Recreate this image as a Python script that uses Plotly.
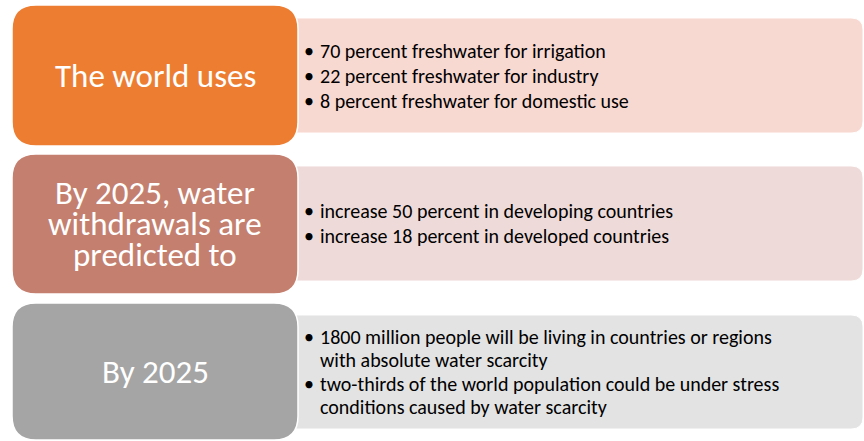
import plotly.graph_objects as go

# ---- data ----
headings = [
    ["The world uses"],
    ["By 2025, water", "withdrawals are", "predicted to"],
    ["By 2025"],
]
bullets = [
    [["70 percent freshwater for irrigation"],
     ["22 percent freshwater for industry"],
     ["8 percent freshwater for domestic use"]],
    [["increase 50 percent in developing countries"],
     ["increase 18 percent in developed countries"]],
    [["1800 million people will be living in countries or regions",
      "with absolute water scarcity"],
     ["two-thirds of the world population could be under stress",
      "conditions caused by water scarcity"]],
]
head_colors = ["#ED7D31", "#C47F6E", "#A5A5A5"]
body_colors = ["#F8D9D2", "#EEDBD9", "#E3E3E3"]

# ---- layout geometry (pixels) ----
W, H = 864, 441
head_boxes = [(12, 5, 298, 146), (12, 154, 298, 294), (12, 303, 298, 440)]
body_boxes = [(285, 18, 863, 133), (285, 166, 863, 281), (285, 315, 863, 429)]
FONT = "Carlito, Lato, 'Open Sans', sans-serif"


def rrect(x0, y0, x1, y1, r):
    return (f"M {x0+r},{y0} L {x1-r},{y0} Q {x1},{y0} {x1},{y0+r} "
            f"L {x1},{y1-r} Q {x1},{y1} {x1-r},{y1} L {x0+r},{y1} "
            f"Q {x0},{y1} {x0},{y1-r} L {x0},{y0+r} Q {x0},{y0} {x0+r},{y0} Z")


fig = go.Figure()
fig.add_trace(go.Scatter(x=[0, W], y=[0, H], mode="markers",
                         marker=dict(opacity=0), hoverinfo="skip", showlegend=False))

shapes = []
annotations = []
for i in range(3):
    bx = body_boxes[i]
    shapes.append(dict(type="path", path=rrect(*bx, 12), xref="x", yref="y",
                       fillcolor=body_colors[i], line=dict(color="rgba(255,255,255,0.9)", width=1),
                       layer="below"))
    hx = head_boxes[i]
    shapes.append(dict(type="path", path=rrect(*hx, 24), xref="x", yref="y",
                       fillcolor=head_colors[i], line=dict(color="white", width=1.5),
                       layer="below"))
    # heading text
    cx = (hx[0] + hx[2]) / 2
    cy = (hx[1] + hx[3]) / 2
    n = len(headings[i])
    lh = 31
    for k, line in enumerate(headings[i]):
        y = cy + (k - (n - 1) / 2) * lh
        annotations.append(dict(x=cx, y=y, text=line, showarrow=False, xref="x", yref="y",
                                xanchor="center", yanchor="middle",
                                font=dict(family=FONT, size=33, color="white")))
    # bullets
    lines = []
    for b in bullets[i]:
        for j, t in enumerate(b):
            lines.append((j == 0, t))
    n = len(lines)
    lh = 25 if i < 2 else 23.5
    by = (bx[1] + bx[3]) / 2
    for k, (first, t) in enumerate(lines):
        y = by + (k - (n - 1) / 2) * lh
        if first:
            annotations.append(dict(x=309, y=y, text="•", showarrow=False, xref="x", yref="y",
                                    xanchor="center", yanchor="middle",
                                    font=dict(family=FONT, size=20, color="black")))
        annotations.append(dict(x=318, y=y, text=t, showarrow=False, xref="x", yref="y",
                                xanchor="left", yanchor="middle",
                                font=dict(family=FONT, size=20, color="black")))

fig.update_layout(
    width=W, height=H, margin=dict(l=0, r=0, t=0, b=0),
    paper_bgcolor="white", plot_bgcolor="white",
    xaxis=dict(range=[0, W], visible=False, fixedrange=True),
    yaxis=dict(range=[H, 0], visible=False, fixedrange=True),
    shapes=shapes, annotations=annotations, showlegend=False,
)
fig.write_html("out.html", config={"displayModeBar": False},
               post_script="document.body.style.margin='0';document.body.style.overflow='hidden';")
